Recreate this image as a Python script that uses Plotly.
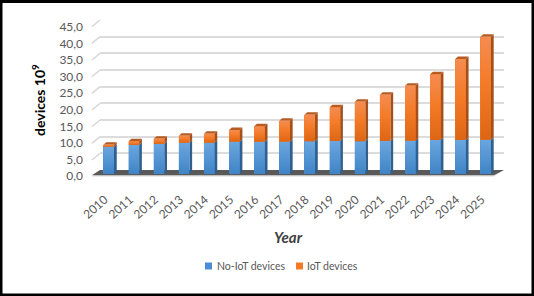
import plotly.graph_objects as go

years = ["2010","2011","2012","2013","2014","2015","2016","2017","2018","2019","2020","2021","2022","2023","2024","2025"]
no_iot = [8.2,8.7,9.0,9.4,9.4,9.7,9.7,9.7,9.8,9.9,9.8,9.9,10.0,10.2,10.2,10.3]
iot = [0.6,1.1,1.6,2.1,2.7,3.5,4.6,6.3,8.0,10.1,11.9,13.9,16.5,19.7,24.3,30.9]
y_ticks = [0,5,10,15,20,25,30,35,40,45]
y_labels = ["0,0","5,0","10,0","15,0","20,0","25,0","30,0","35,0","40,0","45,0"]
series_names = ["No-IoT devices", "IoT devices"]

W, H = 534, 296
FONT = "Lato"
GREY = "#595959"
BLUE, ORANGE = "#4a8fd4", "#f47a28"
BAR_W = 0.42
DX, DY = 0.11, 0.75

def hx(p): return p / W
def vy(p): return 1 - p / H

fig = go.Figure()

# subplot xy: floor and wall ticks (bottom layer)
for v in y_ticks[1:]:
    fig.add_trace(go.Scatter(x=[0, -0.32], y=[v, v - 2], mode="lines",
                             line=dict(color="#d9d9d9", width=1.5), showlegend=False, hoverinfo="skip"))
fig.add_trace(go.Scatter(x=[-0.32, 0, 16, 15.6, -0.32], y=[-2.0, 0, 0, -2.0, -2.0], mode="lines",
                         fill="toself", fillcolor="#e4e4e4", line=dict(width=0),
                         showlegend=False, hoverinfo="skip"))
fig.add_trace(go.Scatter(x=[-0.32, 0, 16, 15.6, -0.32], y=[-1.6, 0, 0, -1.6, -1.6], mode="lines",
                         fill="toself", fillcolor="#595959", line=dict(width=0),
                         showlegend=False, hoverinfo="skip"))

# subplot x2y2: back wall gridlines
fig.add_trace(go.Scatter(x=[0], y=[45], xaxis="x2", yaxis="y2", mode="markers", marker=dict(opacity=0),
                         showlegend=False, hoverinfo="skip"))

# subplot x3y3: bars
xs = list(range(len(years)))
fig.add_trace(go.Bar(x=xs, y=no_iot, name=series_names[0], marker=dict(color=BLUE, line=dict(width=0)),
                     width=BAR_W, xaxis="x3", yaxis="y3", showlegend=False))
fig.add_trace(go.Bar(x=xs, y=iot, name=series_names[1], marker=dict(color=ORANGE, line=dict(width=0)),
                     width=BAR_W, xaxis="x3", yaxis="y3", showlegend=False))

def poly(px, py, color=None, grad=None):
    kw = dict(fillcolor=color) if color else dict(fillgradient=dict(type="vertical", colorscale=grad))
    fig.add_trace(go.Scatter(x=px, y=py, mode="lines", fill="toself", line=dict(width=0), xaxis="x3", yaxis="y3",
                             showlegend=False, hoverinfo="skip", **kw))

BLUE_G = [[0, "#3f84c6"], [1, "#6ba6df"]]
ORANGE_G = [[0, "#dd6614"], [0.55, "#f47b28"], [1, "#f58c52"]]
for i in xs:
    l, r = i - BAR_W / 2, i + BAR_W / 2
    a, b = no_iot[i], no_iot[i] + iot[i]
    poly([r, r + DX, r + DX, r, r], [0, DY, a + DY, a, 0], color="#2f608f")
    poly([r, r + DX, r + DX, r, r], [a, a + DY, b + DY, b, a], color="#a5501b")
    poly([l, l + DX, r + DX, r, l], [b, b + DY, b + DY, b, b], color="#b65b22")
    poly([l, r, r, l, l], [0, 0, a, a, 0], grad=BLUE_G)
    poly([l, r, r, l, l], [a, a, b, b, a], grad=ORANGE_G)

# subplot x4y4: y tick labels
fig.add_trace(go.Scatter(x=[0], y=[0], xaxis="x4", yaxis="y4", mode="markers", marker=dict(opacity=0),
                         showlegend=False, hoverinfo="skip"))

def legend_square(px, color):
    return dict(type="rect", xref="paper", yref="paper", x0=hx(px), x1=hx(px + 7), y0=vy(269.5), y1=vy(262.5),
                line=dict(width=0), fillcolor=color, layer="above")

def legend_text(px, text):
    return dict(text=text, xref="paper", yref="paper", x=hx(px), y=vy(266), showarrow=False, xanchor="left",
                yanchor="middle", font=dict(size=10.5, color=GREY, family=FONT))

fig.update_layout(
    width=W, height=H, margin=dict(l=0, r=0, t=0, b=0, pad=0, autoexpand=False),
    paper_bgcolor="white", plot_bgcolor="rgba(0,0,0,0)", barmode="stack", showlegend=False,
    font=dict(family=FONT, color=GREY, size=12),
    xaxis=dict(domain=[hx(85), hx(510)], range=[(85 - 100) / 25.25, (510 - 100) / 25.25], visible=False, fixedrange=True),
    yaxis=dict(domain=[vy(180), vy(15)], range=[-3, 46.5], visible=False, fixedrange=True),
    xaxis2=dict(domain=[hx(100), hx(504)], range=[0, 16], visible=False, anchor="y2", fixedrange=True),
    yaxis2=dict(domain=[vy(170), vy(20)], range=[0, 45], tickvals=y_ticks, showticklabels=False, ticks="", anchor="x2",
                gridcolor="#dcdcdc", gridwidth=1.5, zeroline=False, showline=False, fixedrange=True),
    xaxis3=dict(domain=[hx(80), hx(510)], range=[(80 - 108.7) / 25.13, (510 - 108.7) / 25.13], anchor="y3",
                tickmode="array", tickvals=xs, ticktext=years, tickangle=-42, ticks="outside", ticklen=10,
                ticklabelshift=-4, tickcolor="rgba(0,0,0,0)", showgrid=False, zeroline=False, showline=False,
                tickfont=dict(size=12, color=GREY, family=FONT), fixedrange=True),
    yaxis3=dict(domain=[vy(177), vy(15)], range=[-0.9, 47.7], visible=False, anchor="x3", fixedrange=True),
    xaxis4=dict(domain=[hx(84), hx(100)], range=[0, 1], visible=False, anchor="y4", fixedrange=True),
    yaxis4=dict(domain=[vy(176), vy(27)], range=[0, 45], anchor="x4", tickmode="array", tickvals=y_ticks,
                ticktext=y_labels, showgrid=False, zeroline=False, showline=False, ticks="",
                tickfont=dict(size=12, color=GREY, family=FONT), fixedrange=True),
    annotations=[
        dict(text="devices 10<sup>9</sup>", xref="paper", yref="paper", x=hx(38), y=vy(100), textangle=-90,
             showarrow=False, font=dict(size=14, color="black", family=FONT, weight="bold"),
             xanchor="center", yanchor="middle"),
        dict(text="<b><i>Year</i></b>", xref="paper", yref="paper", x=hx(288), y=vy(237), showarrow=False,
             font=dict(size=15, color="#404040", family=FONT), xanchor="center", yanchor="middle"),
        legend_text(215, series_names[0]),
        legend_text(305, series_names[1]),
    ],
    shapes=[
        dict(type="rect", xref="paper", yref="paper", x0=hx(1), x1=hx(W - 1), y0=vy(H - 1), y1=vy(1.5),
             line=dict(color="black", width=3), fillcolor="rgba(0,0,0,0)", layer="above"),
        legend_square(205, BLUE),
        legend_square(296, ORANGE),
    ],
)

fig.write_html("out.html", config={"displayModeBar": False},
               post_script="document.body.style.margin='0';document.documentElement.style.overflow='hidden';")
